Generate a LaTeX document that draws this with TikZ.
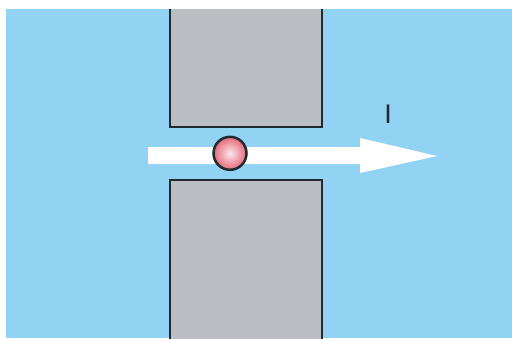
\documentclass[tikz,border=0pt]{standalone}
\usepackage{fontspec}
\setmainfont{Liberation Sans}
\usetikzlibrary{positioning, calc}
\definecolor{sky}{HTML}{92D3F3}
\definecolor{steel}{HTML}{BBBFC3}
\definecolor{edge}{HTML}{1F2C2F}
\definecolor{ballred}{HTML}{E5697A}
\definecolor{ballhi}{HTML}{FBE6EA}

\begin{document}
\begin{tikzpicture}[x=0.5pt, y=-0.5pt]
\tikzset{block/.style={draw=edge, line width=1.25pt, fill=steel, rectangle, inner sep=0pt, outer sep=0pt, minimum width=76pt}}
\useasboundingbox (0,0) rectangle (512,338);
\fill[sky] (6,9) rectangle (512,338);
\begin{scope}
\clip (6,9) rectangle (512,338);
\node[block, minimum height=73.5pt] (upper) at (246,53.5) {};
\node[block, minimum height=90pt] (lower) at (246,270) {};
\end{scope}
% current arrow
\coordinate (tail) at (148,155.5);
\coordinate (tip) at (437,156);
\fill[white] ($(tail)+(0,-8.5)$) -- (360,147) -- (360,138) -- (tip) -- (360,173) -- (360,164) -- ($(tail)+(0,8.5)$) -- cycle;
\node[circle, draw=edge, line width=1.25pt, minimum size=16.5pt, inner sep=0pt, inner color=ballhi, outer color=ballred] (ball) at (230,153.3) {};
\node[text=edge, font=\fontsize{13.5}{16}\selectfont, inner sep=0pt] (current) at (388,114.5) {I};
\end{tikzpicture}
\end{document}
